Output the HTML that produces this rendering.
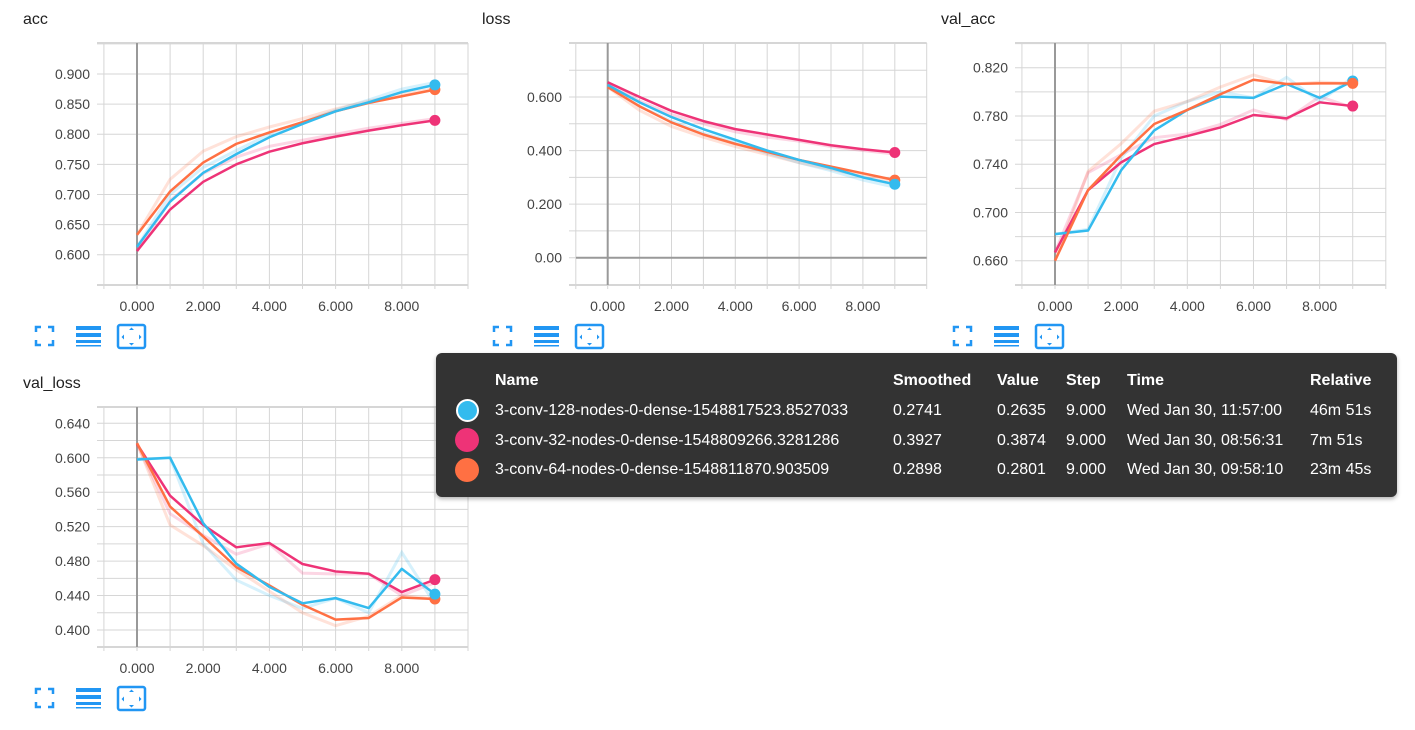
<!DOCTYPE html>
<html><head><meta charset="utf-8"><style>
body{margin:0;background:#fff;width:1415px;height:730px;overflow:hidden;font-family:"Liberation Sans",Arial,sans-serif}
svg{position:absolute;left:0;top:0}
#tip{position:absolute;left:436px;top:353px;width:961px;height:144px;background:#333;border-radius:6px;color:#fff;font-size:16px;box-shadow:0 2px 4px rgba(0,0,0,.3)}
#tip div{position:absolute;white-space:nowrap}
.h{font-weight:bold;top:19px}
.dot{width:22px;height:22px;border-radius:50%;left:20px}
</style></head><body>
<svg id="s" width="1415" height="730"></svg>
<div id="tip">
<div class="h" style="left:59px">Name</div><div class="h" style="left:457px">Smoothed</div><div class="h" style="left:561px">Value</div><div class="h" style="left:630px">Step</div><div class="h" style="left:691px">Time</div><div class="h" style="left:874px">Relative</div>
<div class="dot" style="top:46px;background:#33bbee;border:2px solid #fff;width:19px;height:19px"></div>
<div class="dot" style="top:75px;background:#ee3377;width:24px;height:24px;left:19px"></div>
<div class="dot" style="top:105px;background:#ff7043;width:24px;height:24px;left:19px"></div>
<div style="left:59px;top:49px">3-conv-128-nodes-0-dense-1548817523.8527033</div><div style="left:457px;top:49px">0.2741</div><div style="left:561px;top:49px">0.2635</div><div style="left:630px;top:49px">9.000</div><div style="left:691px;top:49px">Wed Jan 30, 11:57:00</div><div style="left:874px;top:49px">46m 51s</div>
<div style="left:59px;top:79px">3-conv-32-nodes-0-dense-1548809266.3281286</div><div style="left:457px;top:79px">0.3927</div><div style="left:561px;top:79px">0.3874</div><div style="left:630px;top:79px">9.000</div><div style="left:691px;top:79px">Wed Jan 30, 08:56:31</div><div style="left:874px;top:79px">7m 51s</div>
<div style="left:59px;top:108px">3-conv-64-nodes-0-dense-1548811870.903509</div><div style="left:457px;top:108px">0.2898</div><div style="left:561px;top:108px">0.2801</div><div style="left:630px;top:108px">9.000</div><div style="left:691px;top:108px">Wed Jan 30, 09:58:10</div><div style="left:874px;top:108px">23m 45s</div>
</div>
<script>
const steps=[0,1,2,3,4,5,6,7,8,9];
const xTicks=[0,2,4,6,8];
const accBlue=[0.613,0.688,0.736,0.767,0.795,0.817,0.838,0.853,0.870,0.882];
const accPink=[0.606,0.675,0.721,0.750,0.771,0.785,0.796,0.806,0.815,0.823];
const accOrange=[0.633,0.705,0.753,0.784,0.803,0.820,0.838,0.852,0.863,0.874];
const accBlueRaw=[0.613,0.700,0.745,0.773,0.800,0.820,0.840,0.857,0.875,0.886];
const accPinkRaw=[0.606,0.690,0.735,0.762,0.780,0.790,0.800,0.810,0.818,0.826];
const accOrangeRaw=[0.633,0.725,0.772,0.796,0.812,0.826,0.842,0.855,0.866,0.876];
const lossBlue=[0.645,0.580,0.525,0.480,0.440,0.400,0.365,0.335,0.300,0.2741];
const lossPink=[0.655,0.600,0.548,0.510,0.480,0.460,0.440,0.420,0.405,0.3927];
const lossOrange=[0.637,0.565,0.505,0.460,0.425,0.395,0.365,0.340,0.315,0.2898];
const lossBlueRaw=[0.645,0.565,0.510,0.465,0.430,0.390,0.355,0.325,0.290,0.2635];
const lossPinkRaw=[0.655,0.585,0.535,0.500,0.470,0.450,0.435,0.415,0.400,0.3874];
const lossOrangeRaw=[0.637,0.550,0.490,0.450,0.415,0.385,0.355,0.330,0.305,0.2801];
const vaccBlue=[0.682,0.685,0.735,0.768,0.785,0.796,0.795,0.8065,0.795,0.809];
const vaccPink=[0.6668,0.7185,0.7415,0.7567,0.7633,0.7705,0.7808,0.778,0.7913,0.7882];
const vaccOrange=[0.660,0.7185,0.7475,0.7733,0.785,0.798,0.810,0.8065,0.807,0.807];
const vaccBlueRaw=[0.682,0.686,0.745,0.780,0.792,0.800,0.795,0.812,0.792,0.812];
const vaccPinkRaw=[0.667,0.733,0.748,0.762,0.765,0.773,0.785,0.777,0.796,0.787];
const vaccOrangeRaw=[0.660,0.734,0.757,0.784,0.792,0.804,0.814,0.806,0.808,0.807];
const vlossBlue=[0.598,0.600,0.524,0.477,0.450,0.431,0.437,0.4255,0.471,0.4417];
const vlossPink=[0.616,0.556,0.522,0.496,0.501,0.4766,0.468,0.4653,0.444,0.4585];
const vlossOrange=[0.617,0.5433,0.5086,0.473,0.4517,0.4293,0.412,0.414,0.4378,0.436];
const vlossBlueRaw=[0.598,0.600,0.500,0.458,0.440,0.425,0.437,0.420,0.490,0.430];
const vlossPinkRaw=[0.616,0.535,0.510,0.488,0.500,0.466,0.465,0.465,0.440,0.455];
const vlossOrangeRaw=[0.617,0.522,0.498,0.470,0.445,0.420,0.405,0.416,0.440,0.436];
const accTicks=[0.6,0.65,0.7,0.75,0.8,0.85,0.9];
const lossTicks=[0,0.2,0.4,0.6];
const vaccTicks=[0.66,0.7,0.74,0.78,0.82];
const vlossTicks=[0.4,0.44,0.48,0.52,0.56,0.6,0.64];

const NS='http://www.w3.org/2000/svg';
const svg=document.getElementById('s');
function mk(t,a,p){const e=document.createElementNS(NS,t);for(const k in a)e.setAttribute(k,a[k]);(p||svg).appendChild(e);return e;}
const C={blue:'#33bbee',pink:'#ee3377',orange:'#ff7043'};
function chart(o){
  const g=mk('g',{});
  
  
  const x0=o.x0,dx=o.dx;
  const X=s=>x0+s*dx;
  const Y=v=>o.yA+(v-o.vA)*(o.yB-o.yA)/(o.vB-o.vA);
  const L=o.left,R=X(10),T=o.top,B=o.bot;
  const t=mk('text',{x:o.tx,y:T-19,'font-size':16,fill:'#212121'},g);t.textContent=o.name;
  
  const first=Math.ceil((o.vB+(o.vA-o.vB)*((B-o.yB)/(o.yA-o.yB)))/o.minor-1e-9);
  for(let k=first;;k++){const v=k*o.minor,y=Y(v);if(y<T-0.5)break;if(y>B+0.5)continue;
    mk('line',{x1:L,x2:R,y1:y,y2:y,stroke:'#d6d6d6','stroke-width':1},g);}
  for(let s=-1;s<=10;s++){mk('line',{x1:X(s),x2:X(s),y1:T,y2:B+4,stroke:'#d6d6d6','stroke-width':1},g);}
  mk('line',{x1:L,x2:R,y1:T,y2:T,stroke:'#d6d6d6','stroke-width':2},g);
  mk('line',{x1:L,x2:R,y1:B,y2:B,stroke:'#d6d6d6','stroke-width':2},g);
  mk('line',{x1:X(0),x2:X(0),y1:T,y2:B,stroke:'#999','stroke-width':2},g);
  if(o.zero) mk('line',{x1:L+7,x2:R,y1:Y(0),y2:Y(0),stroke:'#999','stroke-width':2},g);
  o.ticks.forEach(v=>{const e=mk('text',{x:o.lx,y:Y(v)+5,'font-size':14,fill:'#444','text-anchor':'end'},g);e.textContent=v===0?'0.00':v.toFixed(3);
    });
  xTicks.forEach(s=>{const e=mk('text',{x:X(s),y:B+26,'font-size':14,fill:'#444','text-anchor':'middle'},g);e.textContent=s.toFixed(3);
    });
  const pts=a=>a.map((v,i)=>X(steps[i])+','+Y(v)).join(' ');
  o.series.forEach(([c,raw])=>{const p=mk('polyline',{points:pts(raw),fill:'none',stroke:C[c],'stroke-opacity':0.2,'stroke-width':3},g);
    });
  o.series.forEach(([c,raw,sm])=>{const p=mk('polyline',{points:pts(sm),fill:'none',stroke:C[c],'stroke-width':2.5,'stroke-linejoin':'round'},g);
    });
  o.series.forEach(([c,raw,sm])=>{const d=mk('circle',{cx:X(9),cy:Y(sm[9]),r:5.5,fill:C[c]},g);
    });
  const iy=B+51,ix=o.ix;
  const i1=mk('g',{fill:'none',stroke:'#2196f3','stroke-width':2.5},g);
  
  mk('path',{d:`M${ix} ${iy-4}v-5h5M${ix+12} ${iy-9}h5v5M${ix+17} ${iy+4}v5h-5M${ix+5} ${iy+9}h-5v-5`},i1);
  const i2=mk('g',{fill:'#2196f3'},g);
  
  mk('rect',{x:ix+40,y:iy-10,width:25,height:4},i2);mk('rect',{x:ix+40,y:iy-3,width:25,height:4},i2);mk('rect',{x:ix+40,y:iy+4,width:25,height:3},i2);mk('rect',{x:ix+40,y:iy+9,width:25,height:1.5},i2);
  const i3=mk('g',{},g);
  
  mk('rect',{x:ix+82,y:iy-11,width:27,height:23,rx:2,fill:'none',stroke:'#2196f3','stroke-width':2.5},i3);
  mk('path',{d:`M${ix+93} ${iy-6}l2.5-2.5l2.5 2.5zM${ix+93} ${iy+7}l2.5 2.5l2.5-2.5zM${ix+88} ${iy-1.5}l-2.5 2.5l2.5 2.5zM${ix+103} ${iy-1.5}l2.5 2.5l-2.5 2.5z`,fill:'#2196f3'},i3);
}
chart({name:'acc',tx:23,left:97,x0:137,dx:33.1,top:43,bot:285,yA:74,vA:0.9,yB:254.7,vB:0.6,minor:0.05,ticks:accTicks,lx:90,ix:36,
  series:[['pink',accPinkRaw,accPink],['orange',accOrangeRaw,accOrange],['blue',accBlueRaw,accBlue]]});
chart({name:'loss',tx:482,left:569,x0:607.7,dx:31.9,top:43,bot:285,yA:97,vA:0.6,yB:257.7,vB:0,minor:0.1,ticks:lossTicks,lx:562,zero:true,ix:494,
  series:[['orange',lossOrangeRaw,lossOrange],['blue',lossBlueRaw,lossBlue],['pink',lossPinkRaw,lossPink]]});
chart({name:'val_acc',tx:941,left:1015,x0:1055,dx:33.08,top:43,bot:285,yA:67.7,vA:0.82,yB:260.7,vB:0.66,minor:0.02,ticks:vaccTicks,lx:1008,ix:954,
  series:[['pink',vaccPinkRaw,vaccPink],['blue',vaccBlueRaw,vaccBlue],['orange',vaccOrangeRaw,vaccOrange]]});
chart({name:'val_loss',tx:23,left:97,x0:137,dx:33.1,top:407,bot:647,yA:423.3,vA:0.64,yB:630,vB:0.4,minor:0.02,ticks:vlossTicks,lx:90,ix:36,
  series:[['pink',vlossPinkRaw,vlossPink],['orange',vlossOrangeRaw,vlossOrange],['blue',vlossBlueRaw,vlossBlue]]});
</script>
</body></html>
